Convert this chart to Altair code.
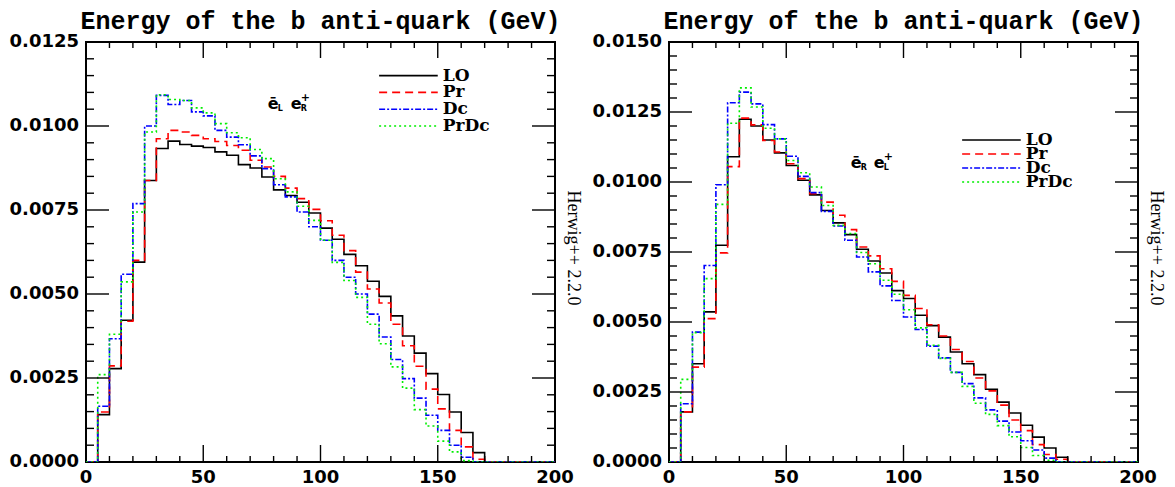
import altair as alt
import pandas as pd

# ---------------- data ----------------
EDGES = list(range(0, 205, 5))          # bin edges 0..200 GeV, 5 GeV bins
SERIES = ["LO", "Pr", "Dc", "PrDc"]
COLORS = ["#000000", "#ff0000", "#0000ff", "#00ee00"]
DASHES = [[1, 0], [8, 5], [6, 2, 2, 2], [2, 3]]

# left panel (e_L^- e_R^+)
L_LO = [0, 0.00141, 0.00278, 0.00422, 0.00595, 0.00838, 0.00933, 0.00955, 0.00945, 0.0094,
        0.00936, 0.00923, 0.00913, 0.00885, 0.00875, 0.00848, 0.0081, 0.00793, 0.00773, 0.00741,
        0.00696, 0.00663, 0.00618, 0.00584, 0.00538, 0.00493, 0.00435, 0.00375, 0.00324, 0.00263,
        0.00201, 0.00149, 0.00088, 0.00028, 0, 0, 0, 0, 0, 0]
L_PR = [0, 0.00149, 0.00286, 0.00419, 0.006, 0.00838, 0.00962, 0.00987, 0.00982, 0.00972,
        0.00962, 0.00954, 0.00942, 0.00928, 0.00898, 0.00878, 0.0085, 0.00815, 0.00784, 0.00752,
        0.00718, 0.00675, 0.00629, 0.00565, 0.00515, 0.00473, 0.0041, 0.00346, 0.00285, 0.00217,
        0.00158, 0.00094, 0.00045, 0.00008, 0, 0, 0, 0, 0, 0]
L_DC = [0, 0.00166, 0.00367, 0.00559, 0.00769, 0.0100, 0.01091, 0.01064, 0.01076, 0.01042,
        0.0103, 0.00987, 0.00967, 0.00944, 0.00911, 0.00873, 0.00825, 0.00789, 0.00744, 0.0070,
        0.0066, 0.0060, 0.0055, 0.0050, 0.0044, 0.00372, 0.00305, 0.00248, 0.0019, 0.00139,
        0.00094, 0.0005, 0.00014, 0, 0, 0, 0, 0, 0, 0]
L_PRDC = [0, 0.0026, 0.0038, 0.00536, 0.00744, 0.00982, 0.01093, 0.01079, 0.01076, 0.01054,
          0.01039, 0.01007, 0.0098, 0.00965, 0.0093, 0.00903, 0.00843, 0.00804, 0.00761, 0.00719,
          0.0066, 0.00594, 0.0054, 0.0049, 0.0041, 0.00352, 0.00283, 0.0022, 0.00156, 0.00107,
          0.00062, 0.0003, 0.00004, 0, 0, 0, 0, 0, 0, 0]

# right panel (e_R^- e_L^+)
R_LO = [0, 0.00179, 0.00351, 0.00536, 0.00774, 0.0109, 0.01224, 0.0120, 0.0115, 0.01104,
        0.01059, 0.01006, 0.00954, 0.00898, 0.00854, 0.00812, 0.0076, 0.00718, 0.00675, 0.00612,
        0.00584, 0.00524, 0.00487, 0.00446, 0.00393, 0.00351, 0.00312, 0.0026, 0.00214, 0.00175,
        0.00131, 0.00089, 0.0005, 0.00017, 0, 0, 0, 0, 0, 0]
R_PR = [0, 0.00179, 0.00339, 0.00512, 0.00747, 0.01055, 0.01228, 0.01204, 0.01148, 0.01107,
        0.01065, 0.01012, 0.00958, 0.00928, 0.00881, 0.0083, 0.00768, 0.00736, 0.0069, 0.00645,
        0.00595, 0.00548, 0.0049, 0.0045, 0.00402, 0.00359, 0.003, 0.00254, 0.00203, 0.0015,
        0.00112, 0.00062, 0.00027, 0.0001, 0, 0, 0, 0, 0, 0]
R_DC = [0, 0.00208, 0.00464, 0.00702, 0.0099, 0.01283, 0.01321, 0.01279, 0.01205, 0.01154,
        0.01092, 0.0102, 0.00962, 0.00895, 0.00843, 0.00792, 0.00732, 0.00679, 0.00629, 0.00577,
        0.00518, 0.00473, 0.00414, 0.00372, 0.0032, 0.0028, 0.00229, 0.00186, 0.00146, 0.00107,
        0.00076, 0.00043, 0.00014, 0, 0, 0, 0, 0, 0, 0]
R_PRDC = [0, 0.00295, 0.00462, 0.00655, 0.0092, 0.0121, 0.01336, 0.01268, 0.01192, 0.01154,
          0.01077, 0.01033, 0.00982, 0.00916, 0.00845, 0.00816, 0.00748, 0.00708, 0.00649, 0.00599,
          0.00544, 0.00479, 0.00417, 0.0037, 0.0032, 0.0027, 0.0021, 0.0017, 0.0013, 0.0009,
          0.00052, 0.00023, 0.00006, 0, 0, 0, 0, 0, 0, 0]

X_LABELS = [0, 50, 100, 150, 200]
X_MAJOR = [50, 100, 150]
X_MINOR = [10, 20, 30, 40, 60, 70, 80, 90, 110, 120, 130, 140, 160, 170, 180, 190]
L_Y_LABELS = [0, 0.0025, 0.005, 0.0075, 0.01, 0.0125]
R_Y_LABELS = [0, 0.0025, 0.005, 0.0075, 0.01, 0.0125, 0.015]
L_YMAX = 0.0125
R_YMAX = 0.015
LEGEND_X = [125, 150]
LEGEND_Y = [0.0115, 0.011, 0.0105, 0.01]
ANN_POS = [77.5, 0.0105]
TITLE = "Energy of the b anti-quark (GeV)"
HERWIG = "Herwig++ 2.2.0"

W, H = 469, 420
LABEL_FONT = "DejaVu Sans"


def hist_df(lists):
    rows = []
    for name, vals in zip(SERIES, lists):
        for i, e in enumerate(EDGES):
            rows.append({"series": name, "x": e, "y": vals[min(i, len(vals) - 1)]})
    return pd.DataFrame(rows)


def panel(lists, ymax, ylabels, sub_a, sub_b):
    xs = alt.Scale(domain=[0, 200], nice=False, zero=False)
    ys = alt.Scale(domain=[0, ymax], nice=False, zero=False)
    color = alt.Color("series:N", scale=alt.Scale(domain=SERIES, range=COLORS), legend=None)
    dash = alt.StrokeDash("series:N", scale=alt.Scale(domain=SERIES, range=DASHES), legend=None)

    def X(f):
        return alt.X(f, scale=xs, axis=None)

    def Y(f):
        return alt.Y(f, scale=ys, axis=None)

    lines = alt.Chart(hist_df(lists)).mark_line(
        interpolate="step-after", strokeWidth=1.6, clip=True
    ).encode(x=X("x:Q"), y=Y("y:Q"), color=color, strokeDash=dash,
             order=alt.Order("x:Q"))
    layers = [lines]

    # tick labels (real text, positioned through the scales)
    xl = pd.DataFrame({"v": X_LABELS, "s": [str(v) for v in X_LABELS]})
    layers.append(alt.Chart(xl).mark_text(
        baseline="top", align="center", font=LABEL_FONT, fontSize=18,
        fontWeight="bold", color="black").encode(
        x=X("v:Q"), y=alt.value(H + 7), text="s:N"))
    yl = pd.DataFrame({"v": ylabels, "s": [f"{v:.4f}" for v in ylabels]})
    layers.append(alt.Chart(yl).mark_text(
        baseline="middle", align="right", font=LABEL_FONT, fontSize=18,
        fontWeight="bold", color="black").encode(
        y=Y("v:Q"), x=alt.value(-7), text="s:N"))

    # inward ticks on all four sides
    def xt(vals, length, top):
        y = alt.value(0) if top else alt.value(H)
        y2 = alt.value(length) if top else alt.value(H - length)
        return alt.Chart(pd.DataFrame({"t": vals})).mark_rule(
            color="black", strokeWidth=1.4).encode(x=X("t:Q"), y=y, y2=y2)

    def yt(vals, length, right):
        x = alt.value(W) if right else alt.value(0)
        x2 = alt.value(W - length) if right else alt.value(length)
        return alt.Chart(pd.DataFrame({"t": vals})).mark_rule(
            color="black", strokeWidth=1.4).encode(y=Y("t:Q"), x=x, x2=x2)

    n = int(round(ymax / 0.0005))
    yminor = [k * 0.0005 for k in range(1, n) if k % 5 != 0]
    ymajor = [v for v in ylabels if 0 < v < ymax]
    layers += [xt(X_MAJOR, 17, False), xt(X_MINOR, 6, False),
               xt(X_MAJOR, 16, True), xt(X_MINOR, 6, True),
               yt(ymajor, 23, False), yt(yminor, 8, False),
               yt(ymajor, 23, True), yt(yminor, 8, True)]

    # legend drawn inside the frame
    leg = pd.DataFrame({"series": SERIES, "x1": [LEGEND_X[0]] * 4,
                        "x2": [LEGEND_X[1]] * 4, "y": LEGEND_Y})
    layers.append(alt.Chart(leg).mark_rule(strokeWidth=1.6).encode(
        x=X("x1:Q"), x2="x2:Q", y=Y("y:Q"), color=color, strokeDash=dash))
    layers.append(alt.Chart(leg).mark_text(
        align="left", baseline="middle", dx=5, font="DejaVu Serif", fontSize=17,
        fontWeight="bold", color="black").encode(
        x=X("x2:Q"), y=Y("y:Q"), text="series:N"))

    # polarisation annotation  e-bar_a e^+_b
    ann = pd.DataFrame({"x": [ANN_POS[0]], "y": [ANN_POS[1]]})
    pieces = [("\u0113", 0, 0, 16), (sub_a, 10, 2, 8), ("e", 23, 0, 16),
              ("+", 33, -8, 11), (sub_b, 33, 2, 8)]
    for txt, dx, dy, fs in pieces:
        layers.append(alt.Chart(ann).mark_text(
            text=txt, align="left", baseline="alphabetic", dx=dx, dy=dy,
            font="DejaVu Sans", fontSize=fs, fontWeight="bold", color="black").encode(
            x=X("x:Q"), y=Y("y:Q")))

    # side label and panel title
    layers.append(alt.Chart(pd.DataFrame({"t": [HERWIG]})).mark_text(
        angle=90, align="center", baseline="middle", font="Liberation Serif",
        fontSize=18, color="black").encode(
        x=alt.value(W + 18), y=alt.value(H / 2 - 4), text="t:N"))
    layers.append(alt.Chart(pd.DataFrame({"t": [TITLE]})).mark_text(
        align="center", baseline="alphabetic", font="Liberation Mono", fontSize=25,
        fontWeight="bold", color="black").encode(
        x=alt.value(W / 2), y=alt.value(-13), text="t:N"))

    return alt.layer(*layers).properties(width=W, height=H)


left = panel([L_LO, L_PR, L_DC, L_PRDC], L_YMAX, L_Y_LABELS, "L", "R")
right = panel([R_LO, R_PR, R_DC, R_PRDC], R_YMAX, R_Y_LABELS, "R", "L")

chart = alt.hconcat(left, right, spacing=8).properties(padding=0).configure_view(
    stroke="black", strokeWidth=2)

chart.save("out.html", embed_options={"renderer": "svg", "actions": False})
